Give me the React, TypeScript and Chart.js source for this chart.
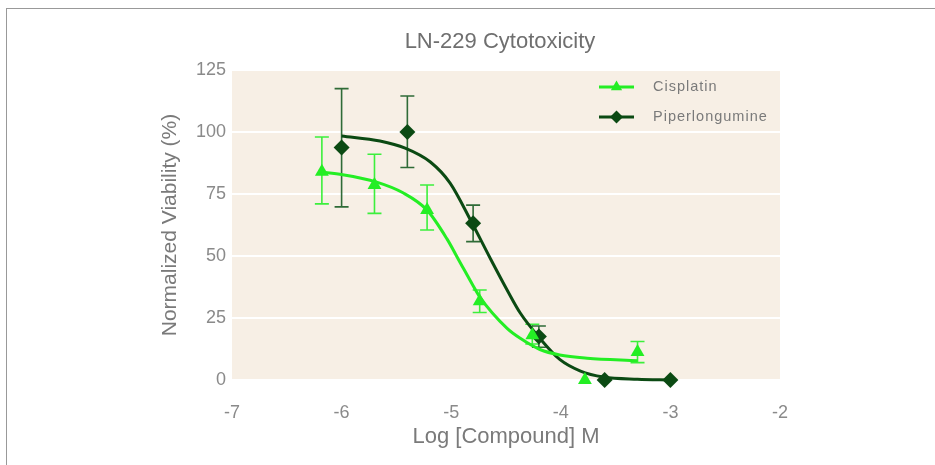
import { useEffect, useRef } from 'react';
import { Chart, registerables } from 'chart.js';
import { drawPoint } from 'chart.js/helpers';

Chart.register(...registerables);

const chartTitle = 'LN-229 Cytotoxicity';
const xAxisTitle = 'Log [Compound] M';
const yAxisTitle = 'Normalized Viability (%)';
const seriesNames = ['Cisplatin', 'Piperlongumine'];

const xTickRange = [-7, -2];
const yTickRange = [0, 125];

// Measured points
const cisplatinLogConc = [-6.18, -5.7, -5.22, -4.74, -4.26, -3.78, -3.3];
const cisplatinViability = [84, 78.6, 68.5, 31.8, 18, 0, 11.3];
const cisplatinErrHigh = [98, 91, 78.6, 36.3, 22.5, 0, 15.5];
const cisplatinErrLow = [71, 67.2, 60.5, 27.2, 14.5, 0, 7];

const piperLogConc = [-6.0, -5.4, -4.8, -4.2, -3.6, -3.0];
const piperViability = [93.7, 100, 63.2, 17.5, 0, 0];
const piperErrHigh = [117.5, 114.5, 70.5, 21.8, 0, 0];
const piperErrLow = [69.8, 85.7, 55.8, 13.2, 0, 0];

// Fitted curves
const cisplatinCurveX = [-6.2, -5.99, -5.68, -5.44, -5.22, -5.04, -4.92, -4.8, -4.74, -4.49, -4.37, -4.19, -4.01, -3.76, -3.3];
const cisplatinCurveY = [83.9, 82.8, 79.8, 75.5, 68.5, 57.0, 47.5, 38.0, 33.5, 20.8, 16.8, 12.3, 10.1, 8.8, 7.8];

const piperCurveX = [-6.0, -5.65, -5.42, -5.19, -5.01, -4.81, -4.65, -4.49, -4.37, -4.2, -4.01, -3.82, -3.61, -3.3, -3.0];
const piperCurveY = [98.4, 96.4, 93.5, 87.9, 79.4, 63.3, 49.6, 36.3, 27.0, 17.3, 8.3, 3.6, 1.2, 0.3, 0];

const cisColor = '#24ee24';
const cisErrColor = '#3cef3c';
const piperColor = '#0b4a13';
const piperErrColor = '#2f6b37';
const FONT = '"Liberation Sans", Arial, sans-serif';

const pts = (xs: number[], ys: number[]) => xs.map((x, i) => ({ x, y: ys[i] }));

const bgPlugin = {
  id: 'plotBg',
  beforeDraw(chart: any) {
    const { ctx, chartArea: a } = chart;
    ctx.save();
    ctx.fillStyle = '#f7efe5';
    ctx.fillRect(a.left, a.top, a.right - a.left, a.bottom - a.top);
    ctx.restore();
  },
};

const errorBarPlugin = {
  id: 'errorBars',
  beforeDatasetsDraw(chart: any) {
    const { ctx } = chart;
    const xs = chart.scales.x;
    const ys = chart.scales.y;
    const groups = [
      { x: cisplatinLogConc, hi: cisplatinErrHigh, lo: cisplatinErrLow, color: cisErrColor },
      { x: piperLogConc, hi: piperErrHigh, lo: piperErrLow, color: piperErrColor },
    ];
    ctx.save();
    ctx.lineWidth = 1.6;
    groups.forEach((g) => {
      ctx.strokeStyle = g.color;
      g.x.forEach((xv, i) => {
        if (g.hi[i] === g.lo[i]) return;
        const px = xs.getPixelForValue(xv);
        const ph = ys.getPixelForValue(g.hi[i]);
        const pl = ys.getPixelForValue(g.lo[i]);
        ctx.beginPath();
        ctx.moveTo(px, ph);
        ctx.lineTo(px, pl);
        ctx.moveTo(px - 7, ph);
        ctx.lineTo(px + 7, ph);
        ctx.moveTo(px - 7, pl);
        ctx.lineTo(px + 7, pl);
        ctx.stroke();
      });
    });
    ctx.restore();
  },
};

const legendPlugin = {
  id: 'insideLegend',
  afterDraw(chart: any) {
    const { ctx, chartArea: a } = chart;
    const items = [
      { name: seriesNames[0], color: cisColor, style: 'triangle' },
      { name: seriesNames[1], color: piperColor, style: 'rectRot' },
    ];
    ctx.save();
    items.forEach((it, i) => {
      const y = a.top + 17 + i * 30;
      const x0 = a.right - 181;
      const x1 = a.right - 146;
      ctx.strokeStyle = it.color;
      ctx.lineWidth = 3;
      ctx.beginPath();
      ctx.moveTo(x0, y);
      ctx.lineTo(x1, y);
      ctx.stroke();
      ctx.fillStyle = it.color;
      drawPoint(ctx, { pointStyle: it.style, radius: 6.5, borderWidth: 0, rotation: 0 } as any, (x0 + x1) / 2, y);
      ctx.fillStyle = '#7a7a7a';
      ctx.font = `14.5px ${FONT}`;
      (ctx as any).letterSpacing = '1px';
      ctx.textBaseline = 'middle';
      ctx.textAlign = 'left';
      ctx.fillText(it.name, a.right - 127, y);
    });
    ctx.restore();
  },
};

export default function App() {
  const ref = useRef<HTMLCanvasElement | null>(null);
  useEffect(() => {
    if (!ref.current) return;
    const chart = new Chart(ref.current, {
      type: 'scatter',
      data: {
        datasets: [
          {
            label: seriesNames[0],
            data: pts(cisplatinLogConc, cisplatinViability),
            pointStyle: 'triangle',
            pointRadius: 8,
            pointBackgroundColor: cisColor,
            pointBorderWidth: 0,
            borderColor: cisColor,
            backgroundColor: cisColor,
            clip: false,
            order: 0,
          } as any,
          {
            label: seriesNames[1],
            data: pts(piperLogConc, piperViability),
            pointStyle: 'rectRot',
            pointRadius: 8,
            pointBackgroundColor: piperColor,
            pointBorderWidth: 0,
            borderColor: piperColor,
            backgroundColor: piperColor,
            clip: false,
            order: 0,
          } as any,
          {
            type: 'line',
            label: seriesNames[0] + ' fit',
            data: pts(cisplatinCurveX, cisplatinCurveY),
            borderColor: cisColor,
            borderWidth: 3,
            pointRadius: 0,
            cubicInterpolationMode: 'monotone',
            fill: false,
            clip: false,
            order: 1,
          } as any,
          {
            type: 'line',
            label: seriesNames[1] + ' fit',
            data: pts(piperCurveX, piperCurveY),
            borderColor: piperColor,
            borderWidth: 3,
            pointRadius: 0,
            cubicInterpolationMode: 'monotone',
            fill: false,
            clip: false,
            order: 1,
          } as any,
        ],
      },
      options: {
        animation: false,
        responsive: true,
        maintainAspectRatio: false,
        layout: { padding: { left: 65, right: 0, top: 0, bottom: 0 } },
        plugins: {
          legend: { display: false },
          tooltip: { enabled: false },
          title: {
            display: true,
            text: chartTitle,
            color: '#6f6f6f',
            font: { family: FONT, size: 22, weight: 'normal' },
            padding: { top: 28.8, bottom: 14.8 },
          },
        },
        scales: {
          x: {
            type: 'linear',
            min: xTickRange[0],
            max: xTickRange[1],
            border: { display: false },
            grid: { display: false, drawTicks: false },
            ticks: {
              stepSize: 1,
              padding: 22,
              color: '#8a8a8a',
              font: { family: FONT, size: 18 },
            },
            title: {
              display: true,
              text: xAxisTitle,
              color: '#7a7a7a',
              font: { family: FONT, size: 22 },
              padding: { top: 0, bottom: 14.8 },
            },
            afterFit: (s: any) => {
              s.height = 85;
            },
          },
          y: {
            type: 'linear',
            min: yTickRange[0],
            max: yTickRange[1],
            border: { display: false },
            grid: { color: '#ffffff', lineWidth: 2, drawTicks: false },
            ticks: {
              stepSize: 25,
              padding: 6,
              color: '#8a8a8a',
              font: { family: FONT, size: 18 },
            },
            title: {
              display: true,
              text: yAxisTitle,
              color: '#7a7a7a',
              font: { family: FONT, size: 21 },
              padding: { top: 92.4, bottom: 0 },
            },
            afterFit: (s: any) => {
              s.width = 167;
            },
          },
          yRightSpace: {
            type: 'linear',
            position: 'right',
            display: true,
            border: { display: false },
            grid: { display: false, drawTicks: false },
            ticks: { display: false },
            afterFit: (s: any) => {
              s.width = 155;
            },
          },
        },
      },
      plugins: [bgPlugin, errorBarPlugin, legendPlugin],
    });
    return () => chart.destroy();
  }, []);

  return (
    <div style={{ position: 'fixed', left: 0, top: 0, width: 935, height: 465, background: '#fff', overflow: 'hidden' }}>
      <div
        style={{
          position: 'absolute',
          left: 6,
          top: 8,
          width: 1000,
          height: 1000,
          borderTop: '1px solid #999',
          borderLeft: '1px solid #999',
        }}
      />
      <div style={{ position: 'absolute', left: 0, top: 0, width: 935, height: 465 }}>
        <canvas ref={ref} />
      </div>
    </div>
  );
}
